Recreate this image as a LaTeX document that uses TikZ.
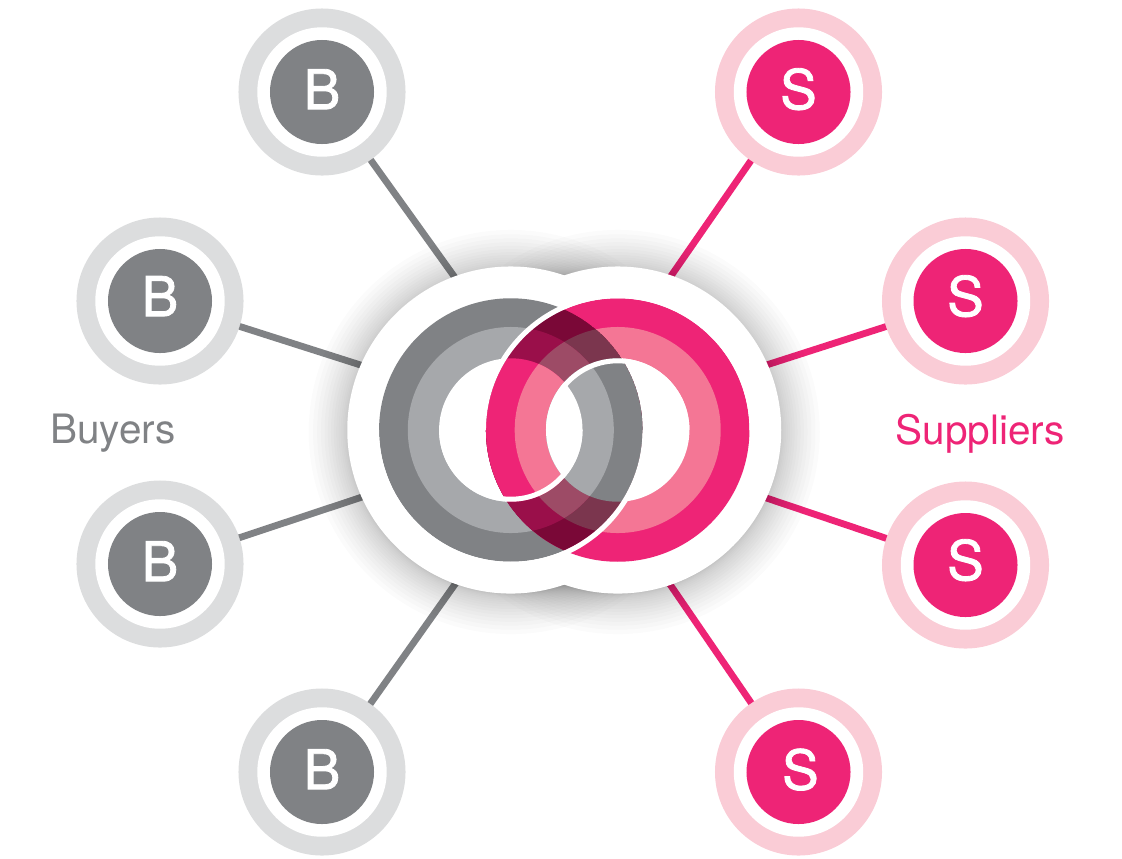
\documentclass[tikz,border=0pt]{standalone}
\usepackage{fontspec}
\setmainfont{TeX Gyre Heros}
\newfontfamily\letterfont[FakeBold=1.5]{TeX Gyre Heros}

\definecolor{buyerdark}{HTML}{808285}
\definecolor{buyermid}{HTML}{A6A8AB}
\definecolor{buyerpale}{HTML}{DCDDDE}
\definecolor{supplierdark}{HTML}{EE2476}
\definecolor{suppliermid}{HTML}{F47695}
\definecolor{supplierpale}{HTML}{FACCD6}
\definecolor{lensouter}{HTML}{7A0837}
\definecolor{lensleft}{HTML}{9A0F4A}
\definecolor{lensright}{HTML}{7B364E}
\definecolor{lensmid}{HTML}{9D4B66}

% One set of concentric discs: centre, outer colour, middle colour
\newcommand{\ringset}[3]{%
    \fill[#2] (#1) circle (3.2925cm);
    \fill[#3] (#1) circle (2.575cm);
    \fill[white] (#1) circle (1.7925cm);}

\begin{document}
\begin{tikzpicture}[
        x=0.025cm, y=-0.025cm,
        buyer/.style={circle, fill=buyerpale, inner sep=0pt, outer sep=0pt,
        minimum size=4.175cm, text=white, text height=28pt,
        font=\letterfont\fontsize{39}{39}\selectfont,
        path picture={
            \fill[white] (path picture bounding box.center) circle (1.6175cm);
            \fill[buyerdark] (path picture bounding box.center) circle (1.3cm);
        }},
        supplier/.style={circle, fill=supplierpale, inner sep=0pt, outer sep=0pt,
        minimum size=4.175cm, text=white, text height=28pt,
        font=\letterfont\fontsize{39}{39}\selectfont,
        path picture={
            \fill[white] (path picture bounding box.center) circle (1.6175cm);
            \fill[supplierdark] (path picture bounding box.center) circle (1.3cm);
        }},
        lift/.style={text depth=#1},
        buyerline/.style={draw=buyerdark, line width=0.17cm},
        supplierline/.style={draw=supplierdark, line width=0.17cm},
        hubdisc/.style={circle, fill=white, inner sep=0pt, outer sep=0pt,
        minimum size=8.175cm},
        gap/.style={draw=white, line width=0.125cm},
        caption/.style={font=\fontsize{28.8}{28.8}\selectfont}
    ]
        \useasboundingbox (0,0) rectangle (1122,858);

% Buyers
        \node[buyer, lift=3.6pt] (b1) at (322,92) {B};
        \node[buyer, lift=6.5pt] (b2) at (160,301) {B};
        \node[buyer, lift=3.6pt] (b3) at (160,564) {B};
        \node[buyer, lift=3.6pt] (b4) at (322,772) {B};

% Suppliers
        \node[supplier, lift=3.6pt] (s1) at (798.5,92) {S};
        \node[supplier, lift=6.5pt] (s2) at (965.5,301) {S};
        \node[supplier, lift=6.5pt] (s3) at (965.5,565) {S};
        \node[supplier, lift=3pt] (s4) at (798.5,772) {\hspace*{2.8pt}S};

% Captions
        \node[caption, text=buyerdark] (buyers) at (113,433.5) {Buyers};
        \node[caption, text=supplierdark] (suppliers) at (980,433.5) {Suppliers};

% Spokes
        \coordinate (hub) at (564.25,430);
        \draw[buyerline] (b1) -- (hub);
        \draw[buyerline] (b2) -- (hub);
        \draw[buyerline] (b3) -- (hub);
        \draw[buyerline] (b4) -- (hub);
        \draw[supplierline] (s1) -- (hub);
        \draw[supplierline] (s2) -- (hub);
        \draw[supplierline] (s3) -- (hub);
        \draw[supplierline] (s4) -- (hub);

% Soft shadow: a stack of faint discs, packed closer near the edge
        \foreach \k in {1,...,18} {
            \pgfmathsetmacro{\glow}{4.05+1.0*\k*\k/324}
            \fill[black, opacity=0.014] (510.8,432) circle (\glow cm);
            \fill[black, opacity=0.014] (617.7,432) circle (\glow cm);
        }

% White base
        \node[hubdisc] (hubl) at (510.8,430) {};
        \node[hubdisc] (hubr) at (617.7,430) {};

% Both rings
        \ringset{hubl}{buyerdark}{buyermid}
        \ringset{hubr}{supplierdark}{suppliermid}

% Overlap of the two rings
        \begin{scope}
            \clip (hubl) circle (3.2925cm);
            \clip (hubr) circle (3.2925cm);
            \fill[lensouter] (hubl) circle (3.2925cm);
            \fill[lensright] (hubr) circle (2.575cm);
            \fill[lensleft] (hubl) circle (2.575cm);
            \clip (hubl) circle (2.575cm);
            \fill[lensmid] (hubr) circle (2.575cm);
        \end{scope}

% Holes show the other ring alone
        \begin{scope}
            \clip (hubl) circle (1.7925cm);
            \ringset{hubr}{supplierdark}{suppliermid}
        \end{scope}
        \begin{scope}
            \clip (hubr) circle (1.7925cm);
            \ringset{hubl}{buyerdark}{buyermid}
        \end{scope}

% White gaps where one ring passes over the other
        \draw[gap] (hubr) ++(180:3.355cm) arc[start angle=180, end angle=0, radius=3.355cm];
        \draw[gap] (hubl) ++(180:3.355cm) arc[start angle=180, end angle=360, radius=3.355cm];
        \draw[gap] (hubr) ++(180:1.73cm) arc[start angle=180, end angle=0, radius=1.73cm];
        \draw[gap] (hubl) ++(180:1.73cm) arc[start angle=180, end angle=360, radius=1.73cm];

    \end{tikzpicture}
\end{document}
